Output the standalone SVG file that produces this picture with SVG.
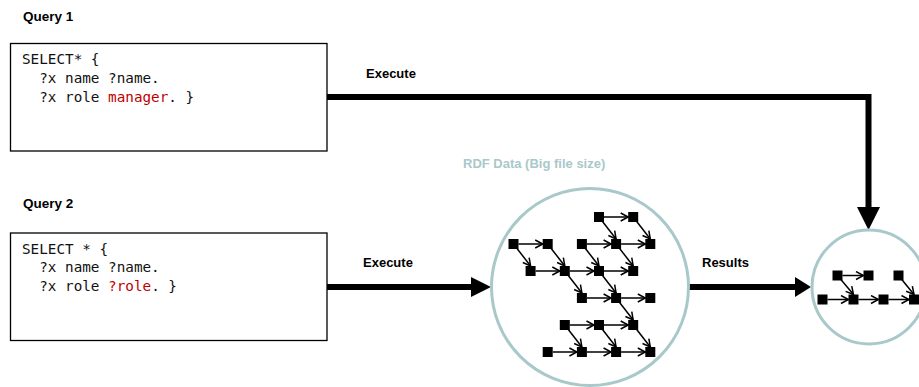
<svg xmlns="http://www.w3.org/2000/svg" width="919" height="387" viewBox="0 0 919 387">
<style>
.lbl{font-family:"Liberation Sans",Arial,sans-serif;font-weight:bold;font-size:13px;fill:#000}
.code{font-family:"DejaVu Sans Mono","Liberation Mono",monospace;font-size:14.3px;fill:#111}
.red{fill:#c00000}
.box{fill:#fff;stroke:#000;stroke-width:1.3}
.ring{fill:#fff;stroke:#a9c8ca;stroke-width:3}
.thick{fill:none;stroke:#000;stroke-width:6}
.e{fill:none;stroke:#000;stroke-width:1.5;marker-end:url(#chev)}
.n{fill:#000}
</style>
<defs>
<marker id="chev" markerUnits="userSpaceOnUse" markerWidth="10" markerHeight="10" viewBox="0 0 10 10" refX="8.5" refY="5" orient="auto">
<path d="M1,1 L8.5,5 L1,9" fill="none" stroke="#000" stroke-width="1.5"/>
</marker>
</defs>

<g id="query1">
<text class="lbl" x="23" y="21" style="font-size:13.5px">Query 1</text>
<rect class="box" x="10.5" y="43.5" width="316.5" height="107.5"/>
<text class="code" x="22" y="64">SELECT* {</text>
<text class="code" x="22" y="83" xml:space="preserve">  ?x name ?name.</text>
<text class="code" x="22" y="102" xml:space="preserve">  ?x role <tspan class="red">manager</tspan>. }</text>
</g>

<g id="query2">
<text class="lbl" x="23" y="208" style="font-size:13.5px">Query 2</text>
<rect class="box" x="10.5" y="233" width="316.5" height="107.5"/>
<text class="code" x="22" y="253.5">SELECT * {</text>
<text class="code" x="22" y="272" xml:space="preserve">  ?x name ?name.</text>
<text class="code" x="22" y="291" xml:space="preserve">  ?x role <tspan class="red">?role</tspan>. }</text>
</g>

<g id="connectors">
<path class="thick" d="M327,97 H868.5 V209" style="stroke-linejoin:miter"/>
<polygon points="857,207 880,207 868.5,230" fill="#000"/>
<text class="lbl" x="366" y="78">Execute</text>
<line class="thick" x1="327" y1="287" x2="473" y2="287"/>
<polygon points="471,277 471,297 491,287" fill="#000"/>
<text class="lbl" x="363" y="267">Execute</text>
<line class="thick" x1="688" y1="287" x2="798" y2="287"/>
<polygon points="795,277 795,297 811,287" fill="#000"/>
<text class="lbl" x="702" y="267">Results</text>
</g>

<g id="rdf-data">
<text class="lbl" x="463" y="168" style="fill:#a9c8ca">RDF Data (Big file size)</text>
<circle class="ring" cx="590" cy="287" r="98.5"/>
<g id="rdf-edges">
<line class="e" x1="604" y1="217" x2="628.2" y2="217"/>
<line class="e" x1="518.5" y1="244" x2="542.7" y2="244"/>
<line class="e" x1="586.9" y1="244" x2="611.1" y2="244"/>
<line class="e" x1="621.1" y1="244" x2="645.3" y2="244"/>
<line class="e" x1="535.6" y1="271" x2="559.8" y2="271"/>
<line class="e" x1="569.8" y1="271" x2="594" y2="271"/>
<line class="e" x1="604" y1="271" x2="628.2" y2="271"/>
<line class="e" x1="586.9" y1="298" x2="611.1" y2="298"/>
<line class="e" x1="621.1" y1="298" x2="645.3" y2="298"/>
<line class="e" x1="569.8" y1="325" x2="594" y2="325"/>
<line class="e" x1="604" y1="325" x2="628.2" y2="325"/>
<line class="e" x1="552.7" y1="352" x2="576.9" y2="352"/>
<line class="e" x1="586.9" y1="352" x2="611.1" y2="352"/>
<line class="e" x1="621.1" y1="352" x2="645.3" y2="352"/>
<line class="e" x1="599" y1="217" x2="616.1" y2="239"/>
<line class="e" x1="633.2" y1="217" x2="650.3" y2="239"/>
<line class="e" x1="513.5" y1="244" x2="530.6" y2="266"/>
<line class="e" x1="547.7" y1="244" x2="564.8" y2="266"/>
<line class="e" x1="581.9" y1="244" x2="599" y2="266"/>
<line class="e" x1="616.1" y1="244" x2="633.2" y2="266"/>
<line class="e" x1="564.8" y1="271" x2="581.9" y2="293"/>
<line class="e" x1="599" y1="271" x2="616.1" y2="293"/>
<line class="e" x1="616.1" y1="298" x2="633.2" y2="320"/>
<line class="e" x1="564.8" y1="325" x2="581.9" y2="347"/>
<line class="e" x1="599" y1="325" x2="616.1" y2="347"/>
<line class="e" x1="633.2" y1="325" x2="650.3" y2="347"/>
</g>
<g id="rdf-nodes">
<rect class="n" x="594" y="212" width="10" height="10"/>
<rect class="n" x="628.2" y="212" width="10" height="10"/>
<rect class="n" x="508.5" y="239" width="10" height="10"/>
<rect class="n" x="542.7" y="239" width="10" height="10"/>
<rect class="n" x="576.9" y="239" width="10" height="10"/>
<rect class="n" x="611.1" y="239" width="10" height="10"/>
<rect class="n" x="645.3" y="239" width="10" height="10"/>
<rect class="n" x="525.6" y="266" width="10" height="10"/>
<rect class="n" x="559.8" y="266" width="10" height="10"/>
<rect class="n" x="594" y="266" width="10" height="10"/>
<rect class="n" x="628.2" y="266" width="10" height="10"/>
<rect class="n" x="576.9" y="293" width="10" height="10"/>
<rect class="n" x="611.1" y="293" width="10" height="10"/>
<rect class="n" x="645.3" y="293" width="10" height="10"/>
<rect class="n" x="559.8" y="320" width="10" height="10"/>
<rect class="n" x="594" y="320" width="10" height="10"/>
<rect class="n" x="628.2" y="320" width="10" height="10"/>
<rect class="n" x="542.7" y="347" width="10" height="10"/>
<rect class="n" x="576.9" y="347" width="10" height="10"/>
<rect class="n" x="611.1" y="347" width="10" height="10"/>
<rect class="n" x="645.3" y="347" width="10" height="10"/>
</g>
</g>

<g id="results">
<circle class="ring" cx="869" cy="287" r="57"/>
<line class="e" x1="842.5" y1="275.5" x2="863.5" y2="275.5"/>
<line class="e" x1="837.5" y1="275.5" x2="853.5" y2="294.5"/>
<line class="e" x1="898.5" y1="275.5" x2="914" y2="294.5"/>
<line class="e" x1="827.5" y1="299.5" x2="848.5" y2="299.5"/>
<line class="e" x1="858.5" y1="299.5" x2="878.5" y2="299.5"/>
<line class="e" x1="888.5" y1="299.5" x2="909" y2="299.5"/>
<rect class="n" x="832.5" y="270.5" width="10" height="10"/>
<rect class="n" x="863.5" y="270.5" width="10" height="10"/>
<rect class="n" x="893.5" y="270.5" width="10" height="10"/>
<rect class="n" x="817.5" y="294.5" width="10" height="10"/>
<rect class="n" x="848.5" y="294.5" width="10" height="10"/>
<rect class="n" x="878.5" y="294.5" width="10" height="10"/>
<rect class="n" x="909" y="294.5" width="10" height="10"/>
</g>
</svg>
